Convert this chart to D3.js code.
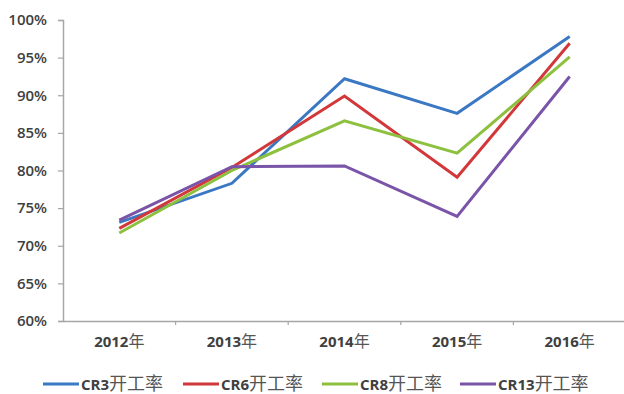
<!DOCTYPE html>
<html>
<head>
<meta charset="utf-8">
<script src="https://cdn.jsdelivr.net/npm/d3@7/dist/d3.min.js"></script>
<style>
  html, body { margin: 0; padding: 0; background: #fff; }
  svg { display: block; }
  text { font-family: "Open Sans", "Noto Sans CJK SC", sans-serif; fill: #404040; }
  .cjk { font-family: "Noto Sans CJK SC", sans-serif; font-weight: 400; fill: #555; }
</style>
</head>
<body>
<svg id="chart" width="624" height="394"></svg>
<script>
// Operating rate of the top-N producers, 2012–2016
const years = ["2012年", "2013年", "2014年", "2015年", "2016年"];
const cr3  = [73.1, 78.3, 92.2, 87.6, 97.8];
const cr6  = [72.3, 80.4, 89.9, 79.1, 96.9];
const cr8  = [71.7, 80.0, 86.6, 82.3, 95.1];
const cr13 = [73.4, 80.5, 80.6, 73.9, 92.5];
const seriesNames = ["CR3开工率", "CR6开工率", "CR8开工率", "CR13开工率"];
const seriesColors = ["#3b78c4", "#d2383a", "#8cc03e", "#7a54a8"];
const yTicks = [60, 65, 70, 75, 80, 85, 90, 95, 100];

const series = [cr3, cr6, cr8, cr13].map((values, i) => ({
  name: seriesNames[i], color: seriesColors[i], values
}));

const svg = d3.select("#chart");
const plot = { left: 63, right: 626, top: 20, bottom: 321 };

const x = d3.scaleBand().domain(years).range([plot.left, plot.right]);
const y = d3.scaleLinear().domain([60, 100]).range([plot.bottom, plot.top]);

// Split a label into its Latin part (bold) and CJK part (regular)
function mixedText(sel, latinSize, cjkSize) {
  sel.each(function (d) {
    const t = d3.select(this);
    const s = typeof d === "string" ? d : d.name;
    const m = s.match(/^([\x00-\x7f]*)(.*)$/);
    t.text(null);
    t.append("tspan").style("font-size", latinSize + "px").style("font-weight", 700).text(m[1]);
    t.append("tspan").attr("class", "cjk").style("font-size", cjkSize + "px").text(m[2]);
  });
}

// Y axis
const yAxis = svg.append("g")
  .attr("transform", `translate(${plot.left},0)`)
  .call(d3.axisLeft(y).tickValues(yTicks).tickSize(5).tickPadding(11)
    .tickFormat(d => d + "%"));
yAxis.select(".domain").attr("stroke", "#a6a6a6").attr("stroke-width", 1.5);
yAxis.selectAll(".tick line").attr("stroke", "#a6a6a6").attr("stroke-width", 1.2);
yAxis.selectAll(".tick text")
  .style("font-size", "15px").style("font-weight", 600).attr("fill", "#404040");

// X axis with ticks at band boundaries
const xAxis = svg.append("g")
  .attr("transform", `translate(0,${plot.bottom})`)
  .call(d3.axisBottom(x).tickSize(0).tickPadding(19));
xAxis.select(".domain").attr("stroke", "#a6a6a6").attr("stroke-width", 1.5);
xAxis.selectAll(".tick text").call(mixedText, 15, 16);
xAxis.selectAll(".bound")
  .data(years.slice(1))
  .join("line")
  .attr("x1", d => x(d)).attr("x2", d => x(d))
  .attr("y1", 0).attr("y2", 4)
  .attr("stroke", "#a6a6a6").attr("stroke-width", 1.2);

// Lines
const line = d3.line()
  .x((d, i) => x(years[i]) + x.bandwidth() / 2)
  .y(d => y(d));

svg.append("g").selectAll("path")
  .data(series)
  .join("path")
  .attr("d", d => line(d.values))
  .attr("fill", "none")
  .attr("stroke", d => d.color)
  .attr("stroke-width", 3)
  .attr("stroke-linejoin", "miter");

// Legend
const legendX = [43, 183, 322, 460];
const legend = svg.append("g").attr("transform", "translate(0,384)");
const items = legend.selectAll("g").data(series).join("g")
  .attr("transform", (d, i) => `translate(${legendX[i]},0)`);
items.append("line")
  .attr("x1", 0).attr("x2", 36).attr("y1", 0).attr("y2", 0)
  .attr("stroke", d => d.color).attr("stroke-width", 3);
items.append("text")
  .attr("x", 38).attr("dy", "0.35em")
  .call(mixedText, 15, 18);
</script>
</body>
</html>
